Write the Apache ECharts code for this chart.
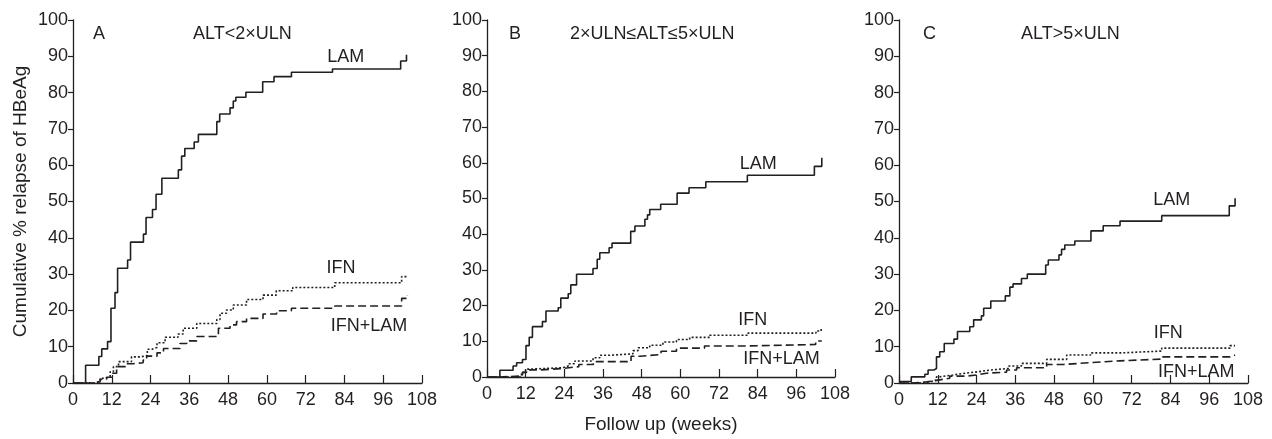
<!DOCTYPE html>
<html>
<head>
<meta charset="utf-8">
<script src="https://cdn.jsdelivr.net/npm/echarts@6/dist/echarts.min.js"></script>
<style>
  html, body { margin: 0; padding: 0; background: #fff; }
  #chart { width: 1272px; height: 439px; }
</style>
</head>
<body>
<div id="chart"></div>
<script>
// [week, cumulative %] step points
const lamA = [[0,0],[3.9,4.9],[8,7.3],[8.9,9.4],[10.7,11.4],[11.75,20.6],[13,24.9],[13.8,31.6],[16.9,33.9],[17.8,38.8],[21.8,41],[22.6,45.6],[24.6,47.8],[25.7,52],[27.5,56.4],[32.6,58.7],[33.6,62.5],[34.6,64.6],[37.5,66.4],[38.8,68.5],[44.5,72],[45.4,74.1],[48.6,75.8],[49.6,77.7],[50.4,78.7],[53.5,80.1],[58.7,83],[62.2,84.4],[67.6,85.6],[80.3,86.5],[101.4,88.7],[103.2,90.4]];
const ifnA = [[0,0],[6.5,0.5],[8.4,1.3],[10,1.8],[11.5,3.1],[12.5,4.5],[14.1,5.9],[18.1,7.2],[21,7.6],[23,9.3],[24.5,9.8],[26,11.1],[28.5,12.6],[32.5,13.5],[34.1,15.1],[38.3,16.4],[44.5,17.5],[45.5,19.2],[47.5,20.1],[49.6,21.5],[53.7,23],[58.8,24.2],[62.9,25.4],[68,26.3],[81,27.6],[101.7,29.3],[103.2,29.3]];
const comboA = [[0,0],[5.5,0.3],[8.4,1],[10.4,1.6],[12,2.7],[13.5,4.5],[16.6,5.3],[18.5,5.6],[21.7,6.3],[22.8,7.4],[26,8.3],[28,9.5],[33.1,10.9],[35.2,11.6],[38.3,12.8],[45,15.1],[48.6,16],[50.6,16.9],[53.7,17.8],[58.8,19],[63,19.9],[67.6,20.6],[81,21.2],[101.7,23.3],[103.5,24.2]];

const lamB = [[0,0],[4,1.9],[8.1,3.1],[9.2,4],[11,4.9],[12.1,8.8],[13.1,11.1],[14.1,14.1],[17.2,15.5],[18.3,18.5],[22.1,19.4],[22.9,22.1],[25.2,23.3],[26,25.8],[27.8,28.8],[32.9,30.4],[34.2,33],[35,34.8],[37.9,36.2],[38.8,37.5],[44.6,40.8],[45.9,42.3],[49,44.2],[49.8,45.4],[50.5,46.9],[53.9,48.4],[59,51.5],[62.7,53],[67.9,54.7],[80.8,56.5],[101.6,59],[103.9,61.4]];
const ifnB = [[0,0],[10.7,1.3],[12,2.2],[13,2.6],[23.6,3.1],[25.2,3.7],[27.3,4.5],[32.9,5.4],[35,6.1],[38.1,6.5],[45.3,7.4],[46.9,8.2],[50.5,8.9],[54.6,9.8],[58.8,10.5],[62.9,11.1],[69.1,11.7],[81,12.3],[102.1,12.9],[103.7,13.6]];
const comboB = [[0,0],[4,0.3],[11,1.3],[12.3,2],[17,2.4],[23.6,2.9],[28.5,3.5],[33,4.3],[44.7,5.8],[47.5,6.3],[54,7.2],[58.8,8.1],[67.5,8.7],[80.5,9.1],[102,10.1],[103.9,10.1]];

const lamC = [[0,0.4],[3.8,1.7],[8,2.4],[9,3.6],[10.9,4],[11.6,7.2],[12.6,8.6],[14,10.9],[17,12.1],[18.1,14.2],[21.9,15.5],[23.1,17.4],[25.5,18.5],[26.2,20.6],[28.4,22.6],[32.9,24],[34.3,26.4],[35.3,27.3],[37.9,28.8],[39.7,30],[45.4,32.5],[46.2,33.9],[49.5,35.3],[50.3,36.8],[51.3,38],[54.4,39.1],[59.4,41.9],[63.2,43.3],[68.4,44.6],[81.3,46.1],[102.2,48.8],[104,50.9]];
const ifnC = [[0,0],[7,0.4],[10,0.8],[11.6,1.7],[12.6,2.2],[16.7,2.7],[20.4,3.1],[24.5,3.6],[28.6,4],[33.8,4.7],[37.9,5.4],[45.7,6.5],[51.9,7.7],[59.3,8.3],[68.9,8.8],[81.3,9.6],[102.4,10.3],[104,10.3]];
const comboC = [[0,0],[4,0.3],[8.5,0.8],[12.1,1.3],[15.7,1.9],[20.9,2.2],[24,2.7],[27.1,3],[33.3,3.6],[36.4,4.2],[45.7,5.1],[50.8,5.6],[59.1,6.1],[68.4,6.6],[81.3,7.2],[102.5,7.7],[104,7.7]];

// curve labels: [week, %, text]
const labelsA = [[84.4,89.8,'LAM'],[82.9,31.7,'IFN'],[91.6,15.7,'IFN+LAM']];
const labelsB = [[84.2,59.6,'LAM'],[82.5,16,'IFN'],[91.4,5,'IFN+LAM']];
const labelsC = [[84.4,50.4,'LAM'],[83.3,13.7,'IFN'],[92,3.1,'IFN+LAM']];

const panelLetters = ['A', 'B', 'C'];
const panelTitles = ['ALT<2×ULN', '2×ULN≤ALT≤5×ULN', 'ALT>5×ULN'];
const xTicks = { min: 0, max: 108, interval: 12 };
const yTicks = { min: 0, max: 100, interval: 10 };

const ink = '#231f20';
const font = 'Liberation Sans';
const fs = 18;

const grids = [
  { left: 73, width: 349, top: 20, height: 363 },
  { left: 487, width: 348, top: 20, height: 363 },
  { left: 899, width: 349, top: 20, height: 363 }
];
// left edges of the panel letter and panel heading
const letterX = [88, 504, 918];
const headX = [188, 565, 1016];

function xAxis (i) {
  return {
    type: 'value', gridIndex: i,
    min: xTicks.min, max: xTicks.max, interval: xTicks.interval,
    name: i === 1 ? 'Follow up (weeks)' : '',
    nameLocation: 'middle', nameGap: 38,
    nameTextStyle: { color: ink, fontSize: 19, fontFamily: font },
    axisLine: { lineStyle: { color: ink, width: 1.3 } },
    axisTick: { inside: true, length: 8, lineStyle: { color: ink, width: 1.2 } },
    axisLabel: { color: ink, fontSize: fs, fontFamily: font, margin: 8 },
    splitLine: { show: false }
  }
}

function yAxis (i) {
  return {
    type: 'value', gridIndex: i,
    min: yTicks.min, max: yTicks.max, interval: yTicks.interval,
    name: i === 0 ? 'Cumulative % relapse of HBeAg' : '',
    nameLocation: 'middle', nameGap: 43, nameRotate: 90,
    nameTextStyle: { color: ink, fontSize: 19, fontFamily: font },
    axisLine: { show: true, lineStyle: { color: ink, width: 1.3 } },
    axisTick: { show: true, length: 5, lineStyle: { color: ink, width: 1.2 } },
    axisLabel: { color: ink, fontSize: fs, fontFamily: font, margin: 5 },
    splitLine: { show: false }
  }
}

function curve (i, data, type) {
  return {
    type: 'line', xAxisIndex: i, yAxisIndex: i,
    data: data, step: 'end', symbol: 'none', silent: true,
    lineStyle: { color: ink, width: 1.6, type: type }
  }
}

const curves = [[lamA, ifnA, comboA], [lamB, ifnB, comboB], [lamC, ifnC, comboC]];
const labels = [labelsA, labelsB, labelsC];

let series = [];
curves.forEach((c, i) => {
  series.push(curve(i, c[0], 'solid'));
  series.push(curve(i, c[1], [2, 2]));
  series.push(curve(i, c[2], [8, 4]));
});

const titles = [];
grids.forEach((g, i) => {
  titles.push({ text: panelLetters[i], left: letterX[i], top: 20,
    textStyle: { color: ink, fontSize: fs, fontWeight: 'normal', fontFamily: font } });
  titles.push({ text: panelTitles[i], left: headX[i], top: 20,
    textStyle: { color: ink, fontSize: fs, fontWeight: 'normal', fontFamily: font } });
});

const chart = echarts.init(document.getElementById('chart'));
chart.setOption({
  animation: false,
  backgroundColor: '#fff',
  title: titles,
  grid: grids,
  xAxis: [0, 1, 2].map(xAxis),
  yAxis: [0, 1, 2].map(yAxis),
  series: series
});

// curve names placed through each panel's own scales
let texts = [];
labels.forEach((list, i) => {
  list.forEach(l => {
    let p = chart.convertToPixel({ gridIndex: i }, [l[0], l[1]]);
    texts.push({
      type: 'text', x: p[0], y: p[1], silent: true,
      style: { text: l[2], fill: ink, font: fs + 'px "' + font + '"', align: 'center', verticalAlign: 'middle' }
    });
  });
});
chart.setOption({ graphic: texts });
</script>
</body>
</html>
